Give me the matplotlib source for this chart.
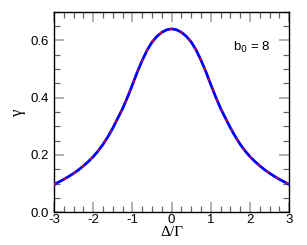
import matplotlib
matplotlib.use("Agg")
import matplotlib.pyplot as plt
from matplotlib.ticker import MultipleLocator

# Data (half profile, |Δ/Γ| from 0 to 3 in steps of 0.125)
half_detuning = [0.0, 0.125, 0.25, 0.375, 0.5, 0.625, 0.75, 0.875, 1.0, 1.125, 1.25, 1.375,
                 1.5, 1.625, 1.75, 1.875, 2.0, 2.125, 2.25, 2.375, 2.5, 2.625, 2.75, 2.875, 3.0]
half_gamma = [0.640, 0.637, 0.628, 0.614, 0.594, 0.566, 0.530, 0.490, 0.445, 0.402, 0.362, 0.328,
              0.294, 0.264, 0.237, 0.214, 0.194, 0.177, 0.162, 0.148, 0.136, 0.125, 0.115, 0.106, 0.097]
# the curve is symmetric about Δ = 0
detuning = [-d for d in half_detuning[:0:-1]] + half_detuning
gamma_vals = half_gamma[:0:-1] + half_gamma

x_ticks = [-3, -2, -1, 0, 1, 2, 3]
y_ticks = [0.0, 0.2, 0.4, 0.6]
annotation = "b$_0$ = 8"

plt.rcParams['font.family'] = ['Liberation Sans', 'DejaVu Sans']

fig = plt.figure(figsize=(3.07, 2.45), dpi=100)
ax = fig.add_axes([54/307, 1-212.3/245, (289.3-54)/307, (212.3-11.7)/245])

ax.plot(detuning, gamma_vals, color='#0000ff', lw=2.0, solid_capstyle='butt',
        solid_joinstyle='round', zorder=3)
ax.plot(detuning, gamma_vals, color='#ff0000', lw=1.0, dashes=(2, 6), zorder=4)

ax.set_xlim(-3, 3)
ax.set_ylim(0, 0.7)
ax.set_xticks(x_ticks)
ax.set_xticklabels([str(t) for t in x_ticks])
ax.set_yticks(y_ticks)
ax.set_yticklabels([f"{t:.1f}" for t in y_ticks])
ax.xaxis.set_minor_locator(MultipleLocator(0.25))
ax.yaxis.set_minor_locator(MultipleLocator(0.05))

ax.tick_params(which='both', direction='in', top=True, right=True, labelsize=9.5)
ax.tick_params(which='major', length=7, width=1.3, color='#aaaaaa')
ax.tick_params(axis='x', which='major', pad=1)
ax.tick_params(axis='y', which='major', pad=4)
ax.tick_params(which='minor', length=4, width=0.9, color='#666666')
for s in ax.spines.values():
    s.set_linewidth(1.0)
    s.set_color('black')

ax.set_xlabel('Δ/Γ', family=['Liberation Serif', 'DejaVu Serif'], fontsize=11, labelpad=0)
ax.set_ylabel('γ', family=['Liberation Serif', 'DejaVu Serif'], fontsize=12, labelpad=3)

ax.text(0.92, 0.82, annotation, transform=ax.transAxes, ha='right', va='center', fontsize=9.5)

fig.savefig('out.png', dpi=100)
